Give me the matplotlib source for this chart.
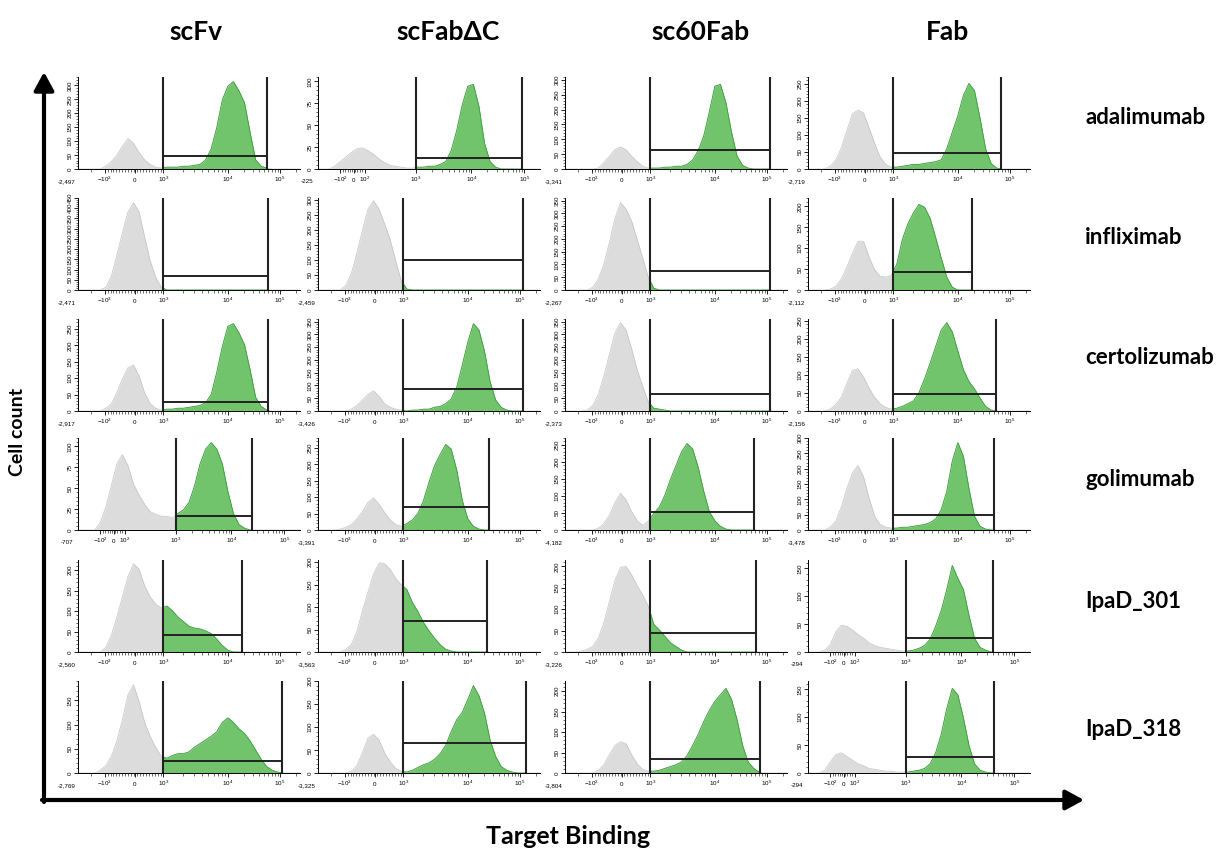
"""Flow cytometry overview: target binding of four antibody formats (scFv, scFabΔC,
sc60Fab, Fab) for six antibodies. Each panel is a FlowJo-style histogram on a
biexponential x axis; events inside the 10^3.. gate are drawn green, the rest grey.
"""
import matplotlib

matplotlib.use("Agg")
import matplotlib.pyplot as plt
import numpy as np
from matplotlib.patches import FancyArrowPatch, Rectangle

FORMATS = ["scFv", "scFabΔC", "sc60Fab", "Fab"]
ANTIBODIES = ["adalimumab", "infliximab", "certolizumab", "golimumab", "IpaD_301", "IpaD_318"]

# histogram heights in % of the panel's y max, on 41 bins across the display axis
# (trailing bins not listed are empty)
SCFV_ADALIMUMAB = [0, 0, 0, 0, 0, 3, 8, 15, 25, 33, 28, 18, 10, 5, 2, 1, 2, 2, 2, 3, 3, 4, 5, 10, 22, 45, 75, 90, 95, 85, 72, 40, 10, 3, 1]
SCFV_INFLIXIMAB = [0, 0, 0, 0, 0, 3, 15, 38, 62, 85, 95, 85, 58, 32, 14, 3]
SCFV_CERTOLIZUMAB = [0, 0, 0, 0, 0, 3, 8, 20, 35, 47, 50, 38, 20, 8, 3, 1, 2, 2, 3, 3, 4, 5, 6, 9, 18, 42, 70, 92, 95, 85, 72, 45, 15, 5, 1]
SCFV_GOLIMUMAB = [0, 0, 0, 0, 8, 25, 48, 72, 82, 70, 50, 38, 28, 20, 17, 15, 15, 13, 18, 22, 30, 48, 72, 88, 95, 88, 72, 42, 18, 6, 2]
SCFV_IPAD301 = [0, 0, 0, 0, 0, 5, 18, 38, 60, 82, 96, 90, 72, 60, 52, 48, 50, 45, 38, 33, 28, 26, 25, 23, 20, 14, 7, 2]
SCFV_IPAD318 = [0, 0, 0, 0, 3, 8, 18, 35, 58, 85, 96, 78, 55, 40, 28, 18, 16, 19, 21, 21, 23, 28, 32, 36, 40, 45, 55, 60, 55, 48, 43, 35, 25, 15, 7, 3, 1]

SCFAB_ADALIMUMAB = [0, 0, 0, 3, 8, 13, 18, 22, 23, 20, 16, 11, 7, 4, 3, 2, 1, 1, 2, 2, 3, 3, 5, 8, 20, 42, 70, 90, 92, 68, 28, 8, 2]
SCFAB_INFLIXIMAB = [0, 0, 0, 0, 0, 5, 18, 40, 65, 88, 97, 88, 72, 55, 32, 10, 1]
SCFAB_CERTOLIZUMAB = [0, 0, 0, 0, 0, 0, 2, 6, 12, 18, 22, 16, 8, 4, 2, 1, 0, 1, 1, 2, 2, 4, 5, 8, 13, 26, 50, 75, 95, 88, 65, 32, 12, 4, 1]
SCFAB_GOLIMUMAB = [0, 0, 0, 0, 1, 3, 6, 12, 20, 30, 35, 28, 19, 11, 6, 4, 7, 11, 18, 32, 52, 70, 82, 93, 88, 65, 32, 12, 4, 1]
SCFAB_IPAD301 = [0, 0, 0, 0, 0, 3, 8, 22, 45, 65, 85, 97, 96, 90, 80, 73, 68, 54, 44, 32, 23, 15, 8, 3, 1]
SCFAB_IPAD318 = [0, 0, 0, 0, 0, 0, 2, 8, 22, 38, 42, 36, 22, 12, 5, 2, 1, 3, 6, 9, 11, 15, 21, 30, 45, 58, 66, 80, 95, 84, 65, 36, 18, 7, 3, 1]

SC60_ADALIMUMAB = [0, 0, 0, 0, 0, 0, 1, 7, 14, 21, 24, 21, 14, 8, 3, 1, 1, 1, 2, 2, 3, 3, 5, 10, 20, 36, 62, 90, 92, 72, 40, 14, 4, 1]
SC60_INFLIXIMAB = [0, 0, 0, 0, 0, 3, 12, 28, 52, 78, 95, 88, 75, 55, 35, 14, 2]
SC60_CERTOLIZUMAB = [0, 0, 0, 0, 1, 6, 18, 38, 62, 85, 96, 88, 68, 45, 27, 10, 3, 2, 1]
SC60_GOLIMUMAB = [0, 0, 0, 0, 0, 0, 2, 7, 16, 30, 40, 33, 20, 10, 5, 10, 18, 25, 38, 55, 70, 85, 94, 88, 68, 42, 20, 10, 4, 1]
SC60_IPAD301 = [0, 0, 0, 1, 3, 6, 15, 32, 55, 78, 92, 93, 84, 72, 62, 50, 30, 24, 17, 10, 6, 2]
SC60_IPAD318 = [0, 0, 0, 0, 0, 0, 3, 9, 20, 30, 34, 32, 20, 10, 4, 2, 2, 3, 5, 7, 9, 12, 19, 30, 42, 56, 68, 78, 85, 92, 80, 58, 30, 12, 5, 1]

FAB_ADALIMUMAB = [0, 0, 0, 0, 3, 10, 23, 42, 60, 64, 61, 45, 28, 13, 5, 2, 2, 3, 4, 5, 5, 6, 7, 8, 10, 22, 40, 58, 80, 93, 85, 55, 22, 6, 1]
FAB_INFLIXIMAB = [0, 0, 0, 0, 1, 4, 12, 25, 40, 53, 53, 36, 22, 15, 14, 16, 28, 55, 72, 84, 93, 90, 78, 57, 35, 14, 3]
FAB_CERTOLIZUMAB = [0, 0, 0, 0, 2, 7, 15, 30, 44, 46, 37, 25, 15, 8, 4, 2, 3, 5, 8, 11, 20, 35, 52, 70, 88, 96, 86, 65, 45, 32, 24, 14, 5, 1]
FAB_GOLIMUMAB = [0, 0, 0, 0, 3, 10, 25, 45, 62, 70, 58, 35, 15, 6, 3, 2, 2, 3, 3, 4, 5, 6, 8, 12, 22, 42, 75, 95, 80, 45, 15, 4, 1]
FAB_IPAD301 = [0, 0, 0, 2, 8, 22, 29, 28, 24, 19, 15, 10, 7, 5, 4, 3, 2, 1, 1, 2, 4, 7, 14, 28, 45, 68, 94, 80, 68, 40, 15, 5, 2]
FAB_IPAD318 = [0, 0, 0, 3, 12, 20, 22, 18, 14, 10, 8, 5, 4, 3, 2, 2, 1, 1, 1, 2, 3, 5, 10, 22, 42, 70, 92, 85, 60, 30, 10, 3, 1]

# y-axis max (cell count) and major step, rows x formats
Y_MAX = [[330, 105, 310, 270],
         [450, 305, 360, 220],
         [280, 360, 360, 255],
         [110, 280, 270, 300],
         [225, 205, 215, 165],
         [190, 200, 225, 165]]
Y_STEP = [[50, 25, 50, 50],
          [50, 50, 50, 50],
          [50, 50, 50, 50],
          [25, 50, 50, 50],
          [50, 50, 50, 50],
          [50, 50, 50, 50]]

# axis minimum printed under each panel
X_MIN = [["-2,497", "-225", "-3,341", "-2,719"],
         ["-2,471", "-2,459", "-2,267", "-2,112"],
         ["-2,917", "-3,426", "-2,373", "-2,156"],
         ["-707", "-3,391", "-4,182", "-3,478"],
         ["-2,560", "-3,563", "-3,226", "-294"],
         ["-2,769", "-3,325", "-3,804", "-294"]]

# gate upper bound (display units) and gate bar height (% of y max)
GATE_HI = [[0.85, 0.918, 0.924, 0.87],
           [0.857, 0.925, 0.924, 0.74],
           [0.857, 0.925, 0.924, 0.845],
           [0.786, 0.77, 0.85, 0.84],
           [0.74, 0.76, 0.86, 0.833],
           [0.92, 0.935, 0.88, 0.84]]
GATE_LEVEL = [[14, 12, 21, 17],
              [15, 33, 21, 20],
              [10, 24, 19, 18],
              [15, 25, 20, 16],
              [19, 34, 21, 15],
              [13, 33, 15, 17]]

HISTS = [[SCFV_ADALIMUMAB, SCFAB_ADALIMUMAB, SC60_ADALIMUMAB, FAB_ADALIMUMAB],
         [SCFV_INFLIXIMAB, SCFAB_INFLIXIMAB, SC60_INFLIXIMAB, FAB_INFLIXIMAB],
         [SCFV_CERTOLIZUMAB, SCFAB_CERTOLIZUMAB, SC60_CERTOLIZUMAB, FAB_CERTOLIZUMAB],
         [SCFV_GOLIMUMAB, SCFAB_GOLIMUMAB, SC60_GOLIMUMAB, FAB_GOLIMUMAB],
         [SCFV_IPAD301, SCFAB_IPAD301, SC60_IPAD301, FAB_IPAD301],
         [SCFV_IPAD318, SCFAB_IPAD318, SC60_IPAD318, FAB_IPAD318]]

# panels whose axis starts near zero get the -10^2/0/10^2 labelling
LOW_RANGE = {(0, 1), (3, 0), (4, 3), (5, 3)}

# decade positions on the display axis
STD_TICKS = ([0.12, 0.255, 0.385, 0.675, 0.91], ["$-10^3$", "$0$", "$10^3$", "$10^4$", "$10^5$"])
LOW_TICKS = ([0.10, 0.16, 0.21, 0.44, 0.69, 0.93], ["$-10^2$", "$0$", "$10^2$", "$10^3$", "$10^4$", "$10^5$"])

GREY, GREY_EDGE = "#dcdcdc", "#c4c4c4"
GREEN, GREEN_EDGE = "#72c46c", "#37a337"

W, H = 1230, 852
COL_X = [78, 318, 565, 808]
ROW_BASE = [169, 290, 411, 530, 652, 773]
AX_W, AX_H = 222, 92

plt.rcParams["font.family"] = ["Lato", "DejaVu Sans"]
plt.rcParams["mathtext.fontset"] = "custom"
plt.rcParams["mathtext.rm"] = "Liberation Sans"
plt.rcParams["mathtext.it"] = "Liberation Sans"

U = np.linspace(0, 1, 41)


def minor_x(pos, low):
    """Minor tick positions: linear steps around zero, log steps per decade."""
    out = []
    if low:
        out += list(np.linspace(pos[0], pos[2], 11)[1:-1])
        decs = list(pos[3:])
    else:
        out += list(np.linspace(pos[0], pos[2], 21)[1:-1])
        out += [pos[0] - 0.06]
        decs = list(pos[2:])
    for a, b in zip(decs[:-1], decs[1:]):
        out += [a + (b - a) * np.log10(k) for k in range(2, 10)]
    step = decs[-1] - decs[-2]
    out += [decs[-1] + step * np.log10(k) for k in range(2, 4)]
    return [p for p in out if 0 < p < 1 and all(abs(p - q) > 1e-3 for q in pos)]


def draw_panel(ax, r, c):
    low = (r, c) in LOW_RANGE
    pos, labels = LOW_TICKS if low else STD_TICKS
    ymax = Y_MAX[r][c]
    vals = np.asarray(HISTS[r][c], dtype=float)
    y = np.pad(vals, (0, len(U) - len(vals))) / 100 * ymax

    gate_lo = pos[labels.index("$10^3$")]
    gate_hi = GATE_HI[r][c]

    ax.fill_between(U, y, color=GREY, lw=0, zorder=1)
    ax.plot(U, y, color=GREY_EDGE, lw=0.5, zorder=1.5)
    clip = Rectangle((gate_lo, 0), gate_hi - gate_lo, ymax * 1.1, transform=ax.transData)
    g = ax.fill_between(U, y, color=GREEN, lw=0, zorder=2)
    gl, = ax.plot(U, y, color=GREEN_EDGE, lw=0.6, zorder=2.5)
    g.set_clip_path(clip)
    gl.set_clip_path(clip)

    # gate
    gy = GATE_LEVEL[r][c] / 100 * ymax
    ax.vlines([gate_lo, gate_hi], 0, ymax, color="#222222", lw=1.5, zorder=3)
    ax.hlines(gy, gate_lo, gate_hi, color="#222222", lw=1.4, zorder=3)

    ax.set_xlim(0, 1)
    ax.set_ylim(0, ymax)
    for s in ("top", "right"):
        ax.spines[s].set_visible(False)
    for s in ("left", "bottom"):
        ax.spines[s].set_linewidth(0.7)

    ax.set_xticks(pos, labels)
    ax.set_xticks(minor_x(pos, low), minor=True)
    step = Y_STEP[r][c]
    yt = np.arange(0, ymax + 1, step)
    ax.set_yticks(yt, [str(v) for v in yt])
    ax.set_yticks(np.arange(0, ymax + 1, step / 5), minor=True)
    ax.tick_params(axis="x", which="major", length=3, width=0.6, pad=6.5, labelsize=4.5)
    ax.tick_params(axis="x", which="minor", length=2, width=0.4)
    ax.tick_params(axis="y", which="major", length=3, width=0.6, pad=1, labelsize=4.5)
    ax.tick_params(axis="y", which="minor", length=1.5, width=0.4)
    for t in ax.get_xticklabels():
        t.set_va("baseline")
    for t in ax.get_yticklabels():
        t.set_rotation(90)
        t.set_va("center")
        t.set_family("Liberation Sans")
    ax.text(-0.05, -0.11, X_MIN[r][c], transform=ax.transAxes, ha="center", va="top",
            fontsize=4.5, family="Liberation Sans")


fig = plt.figure(figsize=(W / 100, H / 100), dpi=100)

for r in range(len(ANTIBODIES)):
    for c in range(len(FORMATS)):
        ax = fig.add_axes([COL_X[c] / W, 1 - ROW_BASE[r] / H, AX_W / W, AX_H / H])
        draw_panel(ax, r, c)

# column and row headings
for x, name in zip([196, 448, 700, 948], FORMATS):
    fig.text(x / W, 1 - 32 / H, name, ha="center", va="center", fontsize=19, fontweight="bold")
for y, name in zip([118, 238, 358, 480, 602, 730], ANTIBODIES):
    fig.text(1085 / W, 1 - y / H, name, ha="left", va="center", fontsize=16, fontweight="bold")

fig.text(18 / W, 1 - 432 / H, "Cell count", rotation=90, ha="center", va="center",
         fontsize=14, fontweight="bold")
fig.text(568 / W, 1 - 836 / H, "Target Binding", ha="center", va="center",
         fontsize=18, fontweight="bold")

# axis arrows
arrow_kw = dict(transform=fig.transFigure, arrowstyle="-|>,head_length=0.55,head_width=0.3",
                mutation_scale=20, lw=3, color="black", shrinkA=0, shrinkB=0)
fig.add_artist(FancyArrowPatch((44 / W, 1 - 802 / H), (44 / W, 1 - 72 / H), **arrow_kw))
fig.add_artist(FancyArrowPatch((42 / W, 1 - 800 / H), (1084 / W, 1 - 800 / H), **arrow_kw))

fig.savefig("out.png", dpi=100)
